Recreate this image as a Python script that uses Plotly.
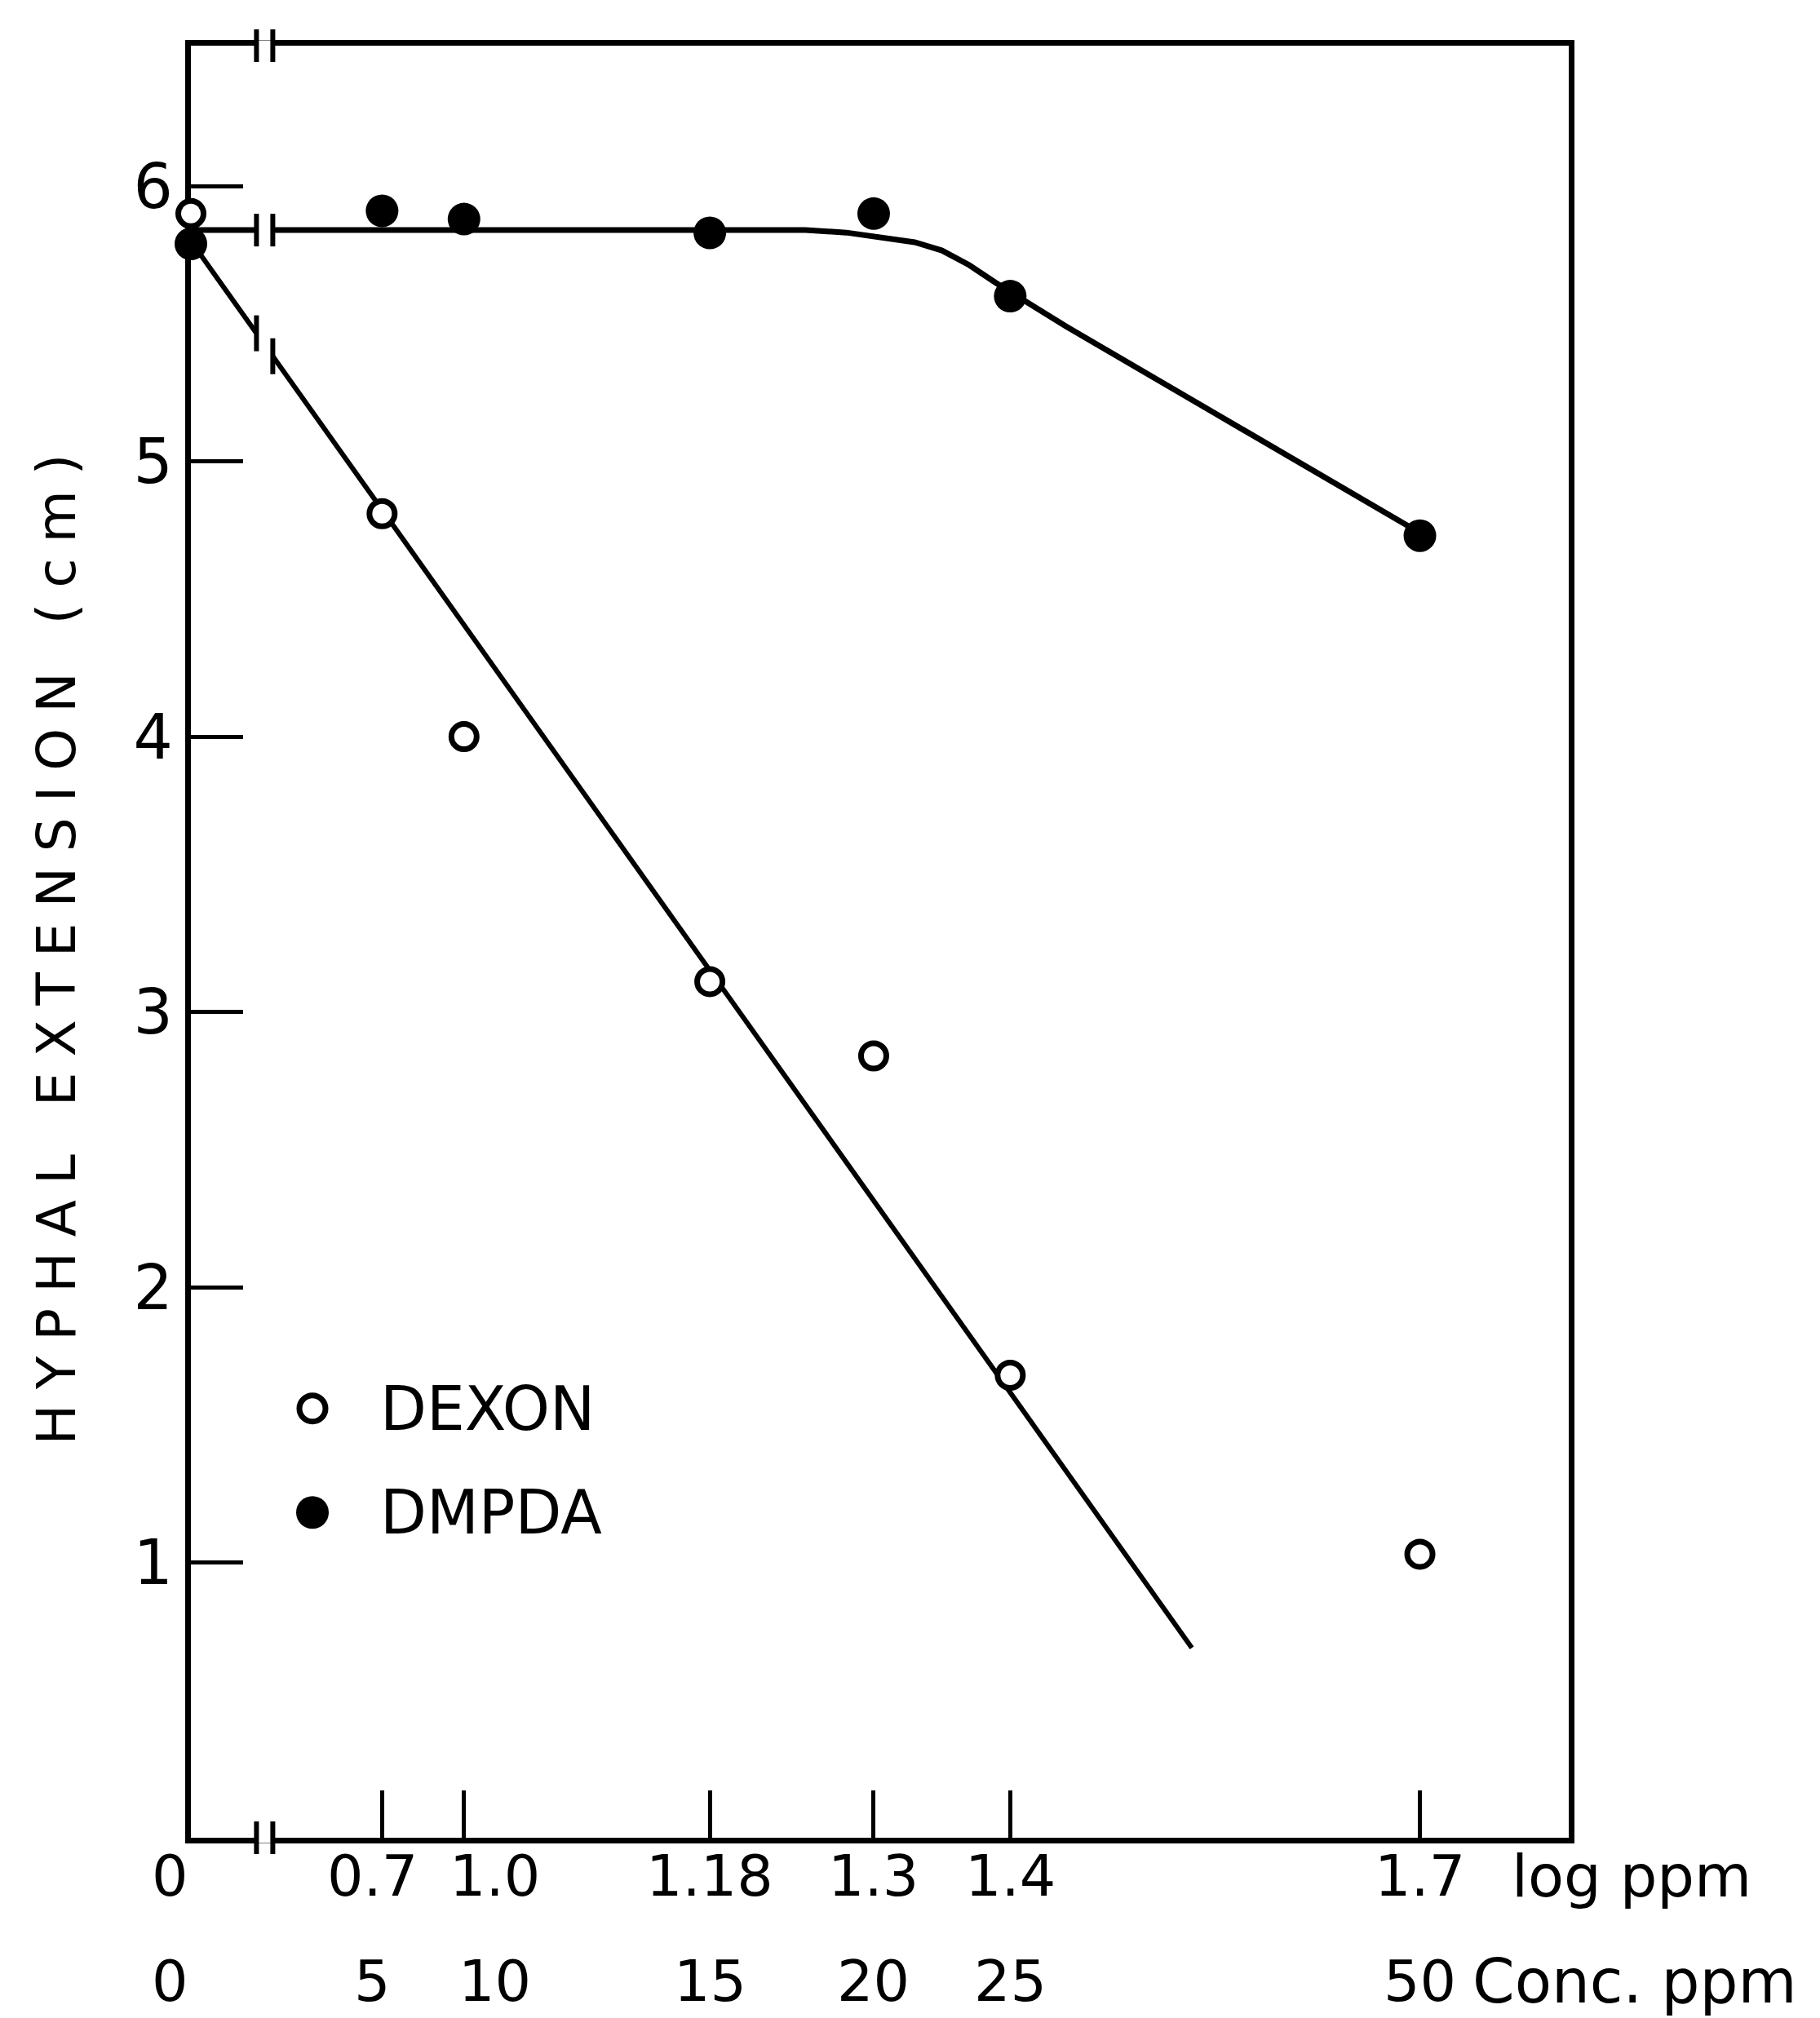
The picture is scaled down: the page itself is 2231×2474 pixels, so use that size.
import numpy as np
import plotly.graph_objects as go

# ---------------- data ----------------
log_ppm_labels = ["0", "0.7", "1.0", "1.18", "1.3", "1.4", "1.7"]
conc_ppm_labels = ["0", "5", "10", "15", "20", "25", "50"]
# where each concentration sits on the drawn (broken) log-ppm axis;
# the 0 and 0.7 columns lie left of the axis break and are compressed
x_axis_pos = [0.800, 0.940, 1.00, 1.18, 1.30, 1.40, 1.70]

series_names = ["DEXON", "DMPDA"]
dexon = [5.90, 4.81, 4.00, 3.11, 2.84, 1.68, 1.03]
dmpda = [5.79, 5.91, 5.88, 5.83, 5.90, 5.60, 4.73]

# hand-drawn fitted lines
dexon_fit_x = [0.800, 1.533]
dexon_fit_y = [5.80, 0.69]
dmpda_fit_x = [0.800, 1.25, 1.28, 1.304, 1.33, 1.35, 1.37, 1.389, 1.407, 1.441, 1.70]
dmpda_fit_y = [5.84, 5.84, 5.831, 5.816, 5.796, 5.766, 5.713, 5.65, 5.594, 5.49, 4.74]

y_ticks = [1, 2, 3, 4, 5, 6]
y_title = "HYPHAL EXTENSION (cm)"
x_unit_top = "log ppm"
x_unit_bottom = "Conc. ppm"

# ---------------- layout constants ----------------
W, H = 2231, 2474
ML, MR, MT, MB = 226, 316, 48, 229
x_range = [0.800, 1.809]
y_range = [0.0, 6.51]
plot_w = W - ML - MR
x_per_px = (x_range[1] - x_range[0]) / plot_w
FONT = "DejaVu Sans"
BLACK = "#000000"
break_x = 0.854
AXIS_W = 7

fig = go.Figure()

# fitted lines
fig.add_trace(go.Scatter(x=dexon_fit_x, y=dexon_fit_y, mode="lines",
                         line=dict(color=BLACK, width=6), showlegend=False,
                         hoverinfo="skip", cliponaxis=False))
fig.add_trace(go.Scatter(x=dmpda_fit_x, y=dmpda_fit_y, mode="lines",
                         line=dict(color=BLACK, width=7, shape="linear"),
                         showlegend=False, hoverinfo="skip", cliponaxis=False))

# data points
fig.add_trace(go.Scatter(x=x_axis_pos, y=dexon, mode="markers", name=series_names[0],
                         marker=dict(symbol="circle", size=31, color="white",
                                     line=dict(color=BLACK, width=7)),
                         showlegend=False, cliponaxis=False))
fig.add_trace(go.Scatter(x=x_axis_pos, y=dmpda, mode="markers", name=series_names[1],
                         marker=dict(symbol="circle", size=40, color=BLACK,
                                     line=dict(color=BLACK, width=0)),
                         showlegend=False, cliponaxis=False))

shapes = []


def break_mark(xc, yfun, yref, line_w, half_h=20, dx_px=10):
    dx = dx_px * x_per_px
    xa, xb = xc - dx, xc + dx
    # white gap in the line between the two bars
    shapes.append(dict(type="line", xref="x", yref=yref, x0=xa, x1=xb,
                       y0=yfun(xa), y1=yfun(xb),
                       line=dict(color="white", width=line_w + 6), layer="above"))
    for xv in (xa, xb):
        shapes.append(dict(type="line", xref="x", yref=yref, x0=xv, x1=xv,
                           ysizemode="pixel", yanchor=yfun(xv), y0=-half_h, y1=half_h,
                           line=dict(color=BLACK, width=6), layer="above"))


break_mark(break_x, lambda v: 1.0, "paper", AXIS_W)
break_mark(break_x, lambda v: 0.0, "paper", AXIS_W)
break_mark(break_x, lambda v: float(np.interp(v, dmpda_fit_x, dmpda_fit_y)), "y", 7)
break_mark(break_x, lambda v: float(np.interp(v, dexon_fit_x, dexon_fit_y)), "y", 6, half_h=22)

# hand-made key (legend) in the lower left
key_x, key_text_x = (375 - ML) / plot_w, (456 - ML) / plot_w
key_rows = [0.2395, 0.1815]
key_styles = [dict(fillcolor="white", line=dict(color=BLACK, width=7), r=16),
              dict(fillcolor=BLACK, line=dict(color=BLACK, width=0), r=20)]
annotations = []
for name, ky, st in zip(series_names, key_rows, key_styles):
    r = st["r"]
    shapes.append(dict(type="circle", xref="paper", yref="paper",
                       xsizemode="pixel", ysizemode="pixel", xanchor=key_x, yanchor=ky,
                       x0=-r, x1=r, y0=-r, y1=r, fillcolor=st["fillcolor"],
                       line=st["line"], layer="above"))
    annotations.append(dict(text=name, xref="paper", yref="paper", x=key_text_x, y=ky,
                            xanchor="left", yanchor="middle", showarrow=False,
                            font=dict(family=FONT, size=74, color=BLACK)))

# two rows of x labels
label_nudge = {0: -26, 1: -12, 2: 38}
for i, (lp, cp, xv) in enumerate(zip(log_ppm_labels, conc_ppm_labels, x_axis_pos)):
    sh = label_nudge.get(i, 0)
    for txt, ys in ((lp, -47), (cp, -176)):
        annotations.append(dict(text=txt, xref="x", yref="paper", x=xv, y=0,
                                xanchor="center", yanchor="middle", xshift=sh, yshift=ys,
                                showarrow=False, font=dict(family=FONT, size=70, color=BLACK)))
annotations.append(dict(text=x_unit_top, xref="x", yref="paper", x=x_axis_pos[-1], y=0,
                        xanchor="left", yanchor="middle", xshift=110, yshift=-47,
                        showarrow=False, font=dict(family=FONT, size=72, color=BLACK)))
annotations.append(dict(text=x_unit_bottom, xref="x", yref="paper", x=x_axis_pos[-1], y=0,
                        xanchor="left", yanchor="middle", xshift=62, yshift=-176,
                        showarrow=False, font=dict(family=FONT, size=74, color=BLACK)))

fig.update_layout(
    width=W, height=H,
    margin=dict(l=ML, r=MR, t=MT, b=MB, autoexpand=False),
    paper_bgcolor="white", plot_bgcolor="white",
    font=dict(family=FONT, color=BLACK),
    showlegend=False,
    shapes=shapes,
    annotations=annotations,
    xaxis=dict(range=x_range, showline=True, linecolor=BLACK, linewidth=AXIS_W, mirror=True,
               ticks="inside", tickvals=x_axis_pos[1:], ticklen=58, tickwidth=5,
               tickcolor=BLACK, showticklabels=False, showgrid=False, zeroline=False,
               layer="below traces", fixedrange=True),
    yaxis=dict(range=y_range, showline=True, linecolor=BLACK, linewidth=AXIS_W, mirror=True,
               ticks="inside", tickvals=y_ticks, ticklen=64, tickwidth=5, tickcolor=BLACK,
               tickfont=dict(family=FONT, size=76, color=BLACK), ticklabelstandoff=0,
               showgrid=False, zeroline=False, layer="below traces", fixedrange=True,
               title=dict(text=y_title, font=dict(family=FONT, size=66, color=BLACK),
                          standoff=52)),
)

post = ("document.querySelectorAll('.ytitle').forEach(function(e){"
        "e.style.letterSpacing='19px';});")
fig.write_html("out.html", post_script=post)
